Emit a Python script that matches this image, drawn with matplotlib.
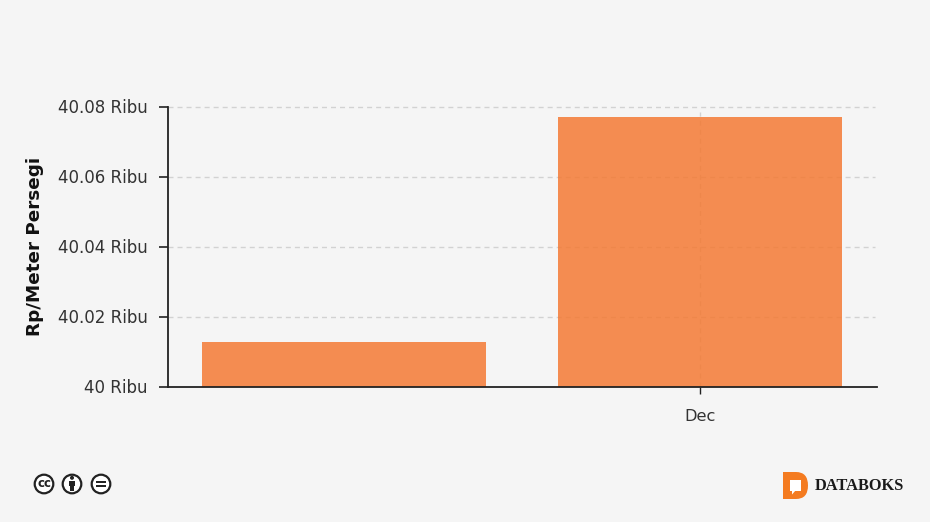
import matplotlib
matplotlib.use('Agg')
import matplotlib.pyplot as plt
from matplotlib.patches import Circle, Rectangle, PathPatch, Polygon
from matplotlib.path import Path
from matplotlib.transforms import ScaledTranslation

categories = ['', 'Dec']
values = [40.0128, 40.0771]
y_ticks = [40, 40.02, 40.04, 40.06, 40.08]
y_labels = ['40 Ribu', '40.02 Ribu', '40.04 Ribu', '40.06 Ribu', '40.08 Ribu']

BG = '#f5f5f5'
ORANGE = '#f47a34'
DARK = '#333333'
W, H = 930, 522

plt.rcParams['font.family'] = ['DejaVu Sans']

fig = plt.figure(figsize=(W / 100, H / 100), dpi=100, facecolor=BG)
ax = fig.add_axes([168 / W, 1 - 387 / H, 709 / W, 280 / H], facecolor=BG)

x = list(range(len(categories)))
ax.set_xlim(-0.494, 1.497)
ax.set_ylim(40, 40.08)

# dashed grid sits under the see-through bars
for t in y_ticks[1:]:
    ax.plot([-0.494, 1.49], [t, t], color='#d2d2d2', lw=1.0, dashes=(3.6, 2.9), zorder=1, clip_on=False)
ax.plot([1, 1], [40, 40.0785], color='#d2d2d2', lw=1.0, dashes=(3.6, 2.9), zorder=1)

ax.bar(x, values, width=0.798, color=ORANGE, alpha=0.85, lw=0, zorder=2)

for s in ['top', 'right']:
    ax.spines[s].set_visible(False)
for s in ['left', 'bottom']:
    ax.spines[s].set_color('#222222')
    ax.spines[s].set_linewidth(1.3)

ax.set_yticks(y_ticks)
ax.set_yticklabels(y_labels, fontsize=12, color=DARK)
ax.tick_params(axis='y', length=6.5, width=1.2, color='#222222', pad=8)
# labels sit a pixel above their ticks
for lab in ax.get_yticklabels():
    lab.set_transform(lab.get_transform() + ScaledTranslation(0, 1 / 100, fig.dpi_scale_trans))
ax.set_xticks([1])
ax.set_xticklabels(['Dec'], fontsize=11.6, color=DARK)
ax.tick_params(axis='x', length=5, width=1.0, color='#222222', pad=11)

fig.text(35 / W, 1 - 246 / H, 'Rp/Meter Persegi', rotation=90, ha='center', va='center',
         fontsize=13.2, fontweight='bold', color='#111111')

# footer marks, drawn in pixel coordinates
ov = fig.add_axes([0, 0, 1, 1], facecolor='none')
ov.set_xlim(0, W)
ov.set_ylim(H, 0)
ov.axis('off')

for cx in [44, 72, 101]:
    ov.add_patch(Circle((cx, 484), 9.3, fc='white', ec='#222222', lw=1.6))
ov.text(44, 483.5, 'cc', fontsize=8.5, fontweight='bold', ha='center', va='center', color='#222222')
ov.add_patch(Circle((72, 477.8), 2, fc='#222222', ec='none'))
ov.add_patch(Rectangle((68.8, 480.5), 6.4, 5.5, fc='#222222', ec='none'))
ov.add_patch(Rectangle((70.2, 485), 3.6, 6, fc='#222222', ec='none'))
ov.add_patch(Rectangle((96, 480.6), 10, 2.2, fc='#222222', ec='none'))
ov.add_patch(Rectangle((96, 485), 10, 2.2, fc='#222222', ec='none'))

d_verts = [(783, 472), (796, 472), (808, 472), (808, 485.5), (808, 499), (796, 499), (783, 499), (783, 472)]
d_codes = [Path.MOVETO, Path.LINETO, Path.CURVE3, Path.CURVE3, Path.CURVE3, Path.CURVE3, Path.LINETO, Path.CLOSEPOLY]
ov.add_patch(PathPatch(Path(d_verts, d_codes), fc='#f47b20', ec='none'))
ov.add_patch(Rectangle((790, 480), 11, 11, fc='white', ec='none'))
ov.add_patch(Polygon([(792, 490), (796, 490), (792, 494.5)], fc='white', ec='none'))

ov.text(815, 486, 'DATABOKS', fontsize=11.8, fontweight='bold', family='Liberation Serif',
        ha='left', va='center', color='#1a1a1a')

fig.savefig('out.png', dpi=100, facecolor=BG)
